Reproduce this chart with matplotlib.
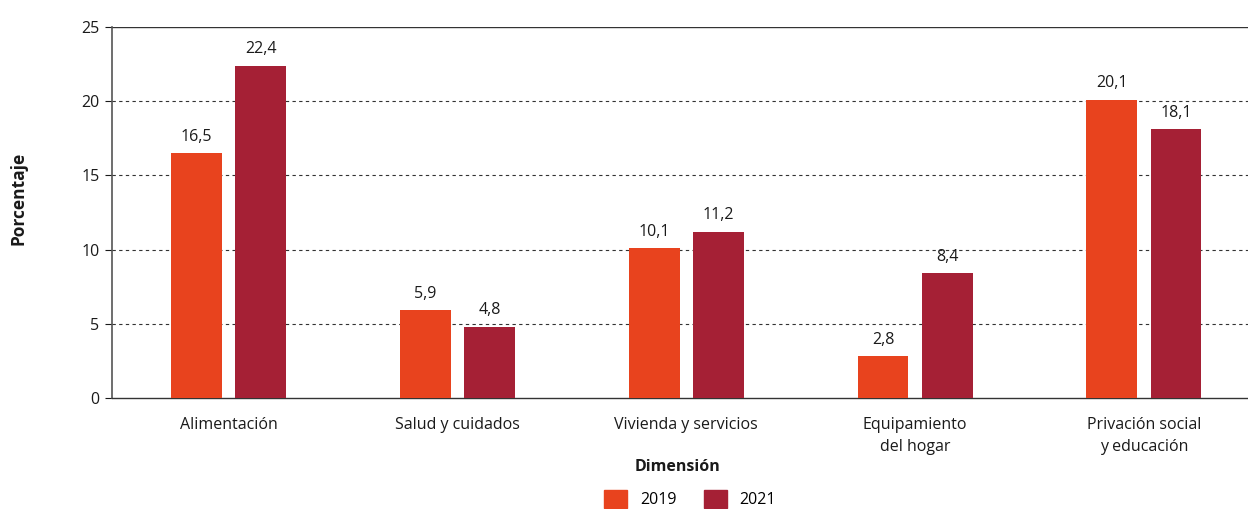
import matplotlib.pyplot as plt
import numpy as np
from matplotlib.patches import Patch

# Datos
categorias = ["Alimentación", "Salud y cuidados", "Vivienda y servicios",
              "Equipamiento\ndel hogar", "Privación social\ny educación"]
valores_2019 = [16.5, 5.9, 10.1, 2.8, 20.1]
valores_2021 = [22.4, 4.8, 11.2, 8.4, 18.1]
anios = ["2019", "2021"]
colores = ["#E8431E", "#A52035"]

plt.rcParams['font.family'] = ['Open Sans', 'DejaVu Sans']

fig = plt.figure(figsize=(12.48, 5.09), dpi=100)
ax = fig.add_axes([0.0897, 0.218, 0.9103, 0.729])

x = np.arange(len(categorias))
ancho = 0.222
desp = 0.14

b1 = ax.bar(x - desp, valores_2019, ancho, color=colores[0], zorder=3)
b2 = ax.bar(x + desp, valores_2021, ancho, color=colores[1], zorder=3)

# Etiquetas de valor con coma decimal
for barras, vals in [(b1, valores_2019), (b2, valores_2021)]:
    for b, v in zip(barras, vals):
        ax.annotate(f"{v:.1f}".replace(".", ","),
                    (b.get_x() + b.get_width() / 2, v),
                    xytext=(0, 6), textcoords="offset points",
                    ha="center", va="bottom", fontsize=11.5, color="#1a1a1a")

ax.set_xlim(-0.51, 4.455)
ax.set_ylim(0, 25)
ax.set_yticks([0, 5, 10, 15, 20, 25])
ax.set_xticks(x)
ax.set_xticklabels(categorias, fontsize=11.5, color="#1a1a1a", linespacing=1.5)
ax.tick_params(axis="y", labelsize=11.5, colors="#1a1a1a", length=5, width=0.8, pad=4)
ax.tick_params(axis="x", length=0, pad=14)

for y in [5, 10, 15, 20]:
    ax.axhline(y, color="#333333", linestyle=(0, (3, 3)), linewidth=0.8, zorder=1)
ax.axhline(25, color="#333333", linewidth=1.0, zorder=1)

for s in ["top", "right"]:
    ax.spines[s].set_visible(False)
ax.spines["left"].set_color("#555555")
ax.spines["left"].set_linewidth(1.2)
ax.spines["bottom"].set_color("#333333")
ax.spines["bottom"].set_linewidth(1.0)

fig.text(0.0145, 0.611, "Porcentaje", rotation=90, fontsize=12.5, fontweight="bold",
         ha="center", va="center", color="#1a1a1a")
fig.text(0.5425, 0.083, "Dimensión", fontsize=11.5, fontweight="bold",
         ha="center", va="center", color="#1a1a1a")

handles = [Patch(color=c) for c in colores]
fig.legend(handles, anios, loc="center", bbox_to_anchor=(0.553, 0.02), ncol=2,
           frameon=False, fontsize=11.5, handlelength=1.45, handleheight=1.35,
           handletextpad=0.8, columnspacing=1.7, borderpad=0.1)

fig.savefig("out.png", dpi=100)
